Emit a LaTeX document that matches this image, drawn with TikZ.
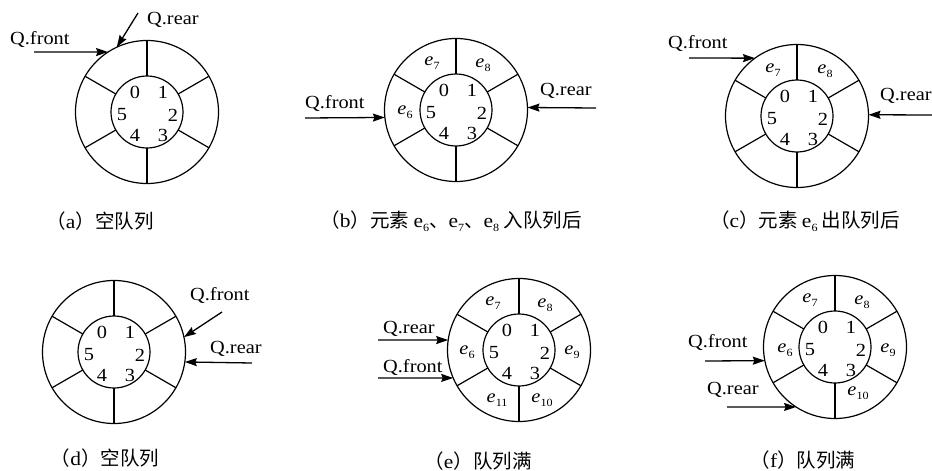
\documentclass[tikz,border=0pt]{standalone}
\usepackage{fontspec}
\setmainfont{Liberation Serif}[FakeStretch=1.1]
\newfontfamily\cjk{Noto Sans CJK SC}
\usetikzlibrary{arrows.meta}
\newcommand\el[1]{\textit{e}\kern0.3pt\raisebox{-0.45ex}{\fontsize{11}{11}\selectfont #1}}
\newcommand\eu[1]{{\rmfamily e\raisebox{-0.4ex}{\fontsize{11}{11}\selectfont #1}}}
\newcommand\cp[2]{{\cjk （}#1{\cjk ）#2}}
\newcommand\ring[3]{%
  \node[outer] (#1o) at (#2,#3) {};
  \node[inner] (#1i) at (#2,#3) {};
  \foreach \a in {90,30,-30,-90,-150,150} \draw[spoke] (#1i.\a) -- (#1o.\a);
  \path (#2,#3) ++(-12,-20) node[num] (#1n0) {0};
  \path (#2,#3) ++(16,-20) node[num] (#1n1) {1};
  \path (#2,#3) ++(26,3) node[num] (#1n2) {2};
  \path (#2,#3) ++(16,23) node[num] (#1n3) {3};
  \path (#2,#3) ++(-12,23) node[num] (#1n4) {4};
  \path (#2,#3) ++(-25,3) node[num] (#1n5) {5};
}
\tikzset{
  ringbase/.style={circle, draw, line width=1.2pt, inner sep=0pt, outer sep=0pt},
  outer/.style={ringbase, minimum size=143pt},
  inner/.style={ringbase, minimum size=72pt},
  spoke/.style={line width=1.2pt},
  num/.style={font=\fontsize{18.5}{18.5}\selectfont, inner sep=0pt},
  qlab/.style={font=\fontsize{18.5}{18.5}\selectfont, inner sep=0pt, anchor=base west},
  ptr/.style={line width=1.3pt, -{Stealth[length=12pt,width=8pt,inset=1.5pt]}},
  elab/.style={font=\fontsize{18.5}{18.5}\selectfont, inner sep=0pt},
  captxt/.style={font=\fontsize{19.5}{19.5}\selectfont, inner sep=0pt},
}
\begin{document}
\begin{tikzpicture}[x=1pt,y=-1pt]
\useasboundingbox (0,0) rectangle (932,471);
% (a)
\ring{a}{147}{112}
\node[qlab] (aqf) at (10,44) {Q.front};
\node[qlab] (aqr) at (147,24) {Q.rear};
\coordinate (afs) at (34,52);
\coordinate (ars) at (138,13);
\draw[ptr] (afs) -- (ao.123);
\draw[ptr] (ars) -- (ao.115);
\node[captxt] (capa) at (100,221) {\cp{a}{空队列}};
% (b)
\ring{b}{456}{110}
\node[qlab] (bqf) at (305,108) {Q.front};
\node[qlab] (bqr) at (540,95) {Q.rear};
\coordinate (bfs) at (305,118);
\coordinate (brs) at (596,108);
\draw[ptr] (bfs) -- (bo.186);
\draw[ptr] (brs) -- (bo.2);
\node[elab] (be6) at (405,112) {\el{6}};
\node[elab] (be7) at (432,63) {\el{7}};
\node[elab] (be8) at (483,65) {\el{8}};
\node[captxt] (capb) at (451,221) {\cp{b}{元素 \eu{6}、\eu{7}、\eu{8} 入队列后}};
% (c)
\ring{c}{797}{116}
\node[qlab] (cqf) at (668,48) {Q.front};
\node[qlab] (cqr) at (880,100) {Q.rear};
\coordinate (cfs) at (689,58);
\coordinate (crs) at (932,115);
\draw[ptr] (cfs) -- (co.126);
\draw[ptr] (crs) -- (co.1);
\node[elab] (ce7) at (773,70) {\el{7}};
\node[elab] (ce8) at (825,71) {\el{8}};
\node[captxt] (capc) at (805,221) {\cp{c}{元素 \eu{6} 出队列后}};
% (d)
\ring{d}{114}{352}
\node[qlab] (dqf) at (190,300) {Q.front};
\node[qlab] (dqr) at (210,353) {Q.rear};
\coordinate (dfs) at (222,312);
\coordinate (drs) at (252,363);
\draw[ptr] (dfs) -- (do.12);
\draw[ptr] (drs) -- (do.-8);
\node[captxt] (capd) at (105,458) {\cp{d}{空队列}};
% (e)
\ring{e}{519}{350}
\node[qlab] (eqr) at (383,333) {Q.rear};
\node[qlab] (eqf) at (383,372) {Q.front};
\coordinate (ers) at (378,340);
\coordinate (efs) at (378,378);
\draw[ptr] (ers) -- (eo.172);
\draw[ptr] (efs) -- (eo.203);
\node[elab] (ee7) at (493,303) {\el{7}};
\node[elab] (ee8) at (545,305) {\el{8}};
\node[elab] (ee6) at (467,352) {\el{6}};
\node[elab] (ee9) at (572,352) {\el{9}};
\node[elab] (ee11) at (497,400) {\el{11}};
\node[elab] (ee10) at (542,400) {\el{10}};
\node[captxt] (cape) at (478,461) {\cp{e}{队列满}};
% (f)
\ring{f}{835}{347}
\node[qlab] (fqf) at (688,347) {Q.front};
\node[qlab] (fqr) at (707,394) {Q.rear};
\coordinate (ffs) at (705,361);
\coordinate (frs) at (727,407);
\draw[ptr] (ffs) -- (fo.191);
\draw[ptr] (frs) -- (fo.237);
\node[elab] (fe7) at (810,300) {\el{7}};
\node[elab] (fe8) at (862,302) {\el{8}};
\node[elab] (fe6) at (785,350) {\el{6}};
\node[elab] (fe9) at (888,350) {\el{9}};
\node[elab] (fe10) at (858,393) {\el{10}};
\node[captxt] (capf) at (803,460) {\cp{f}{队列满}};
\end{tikzpicture}
\end{document}
